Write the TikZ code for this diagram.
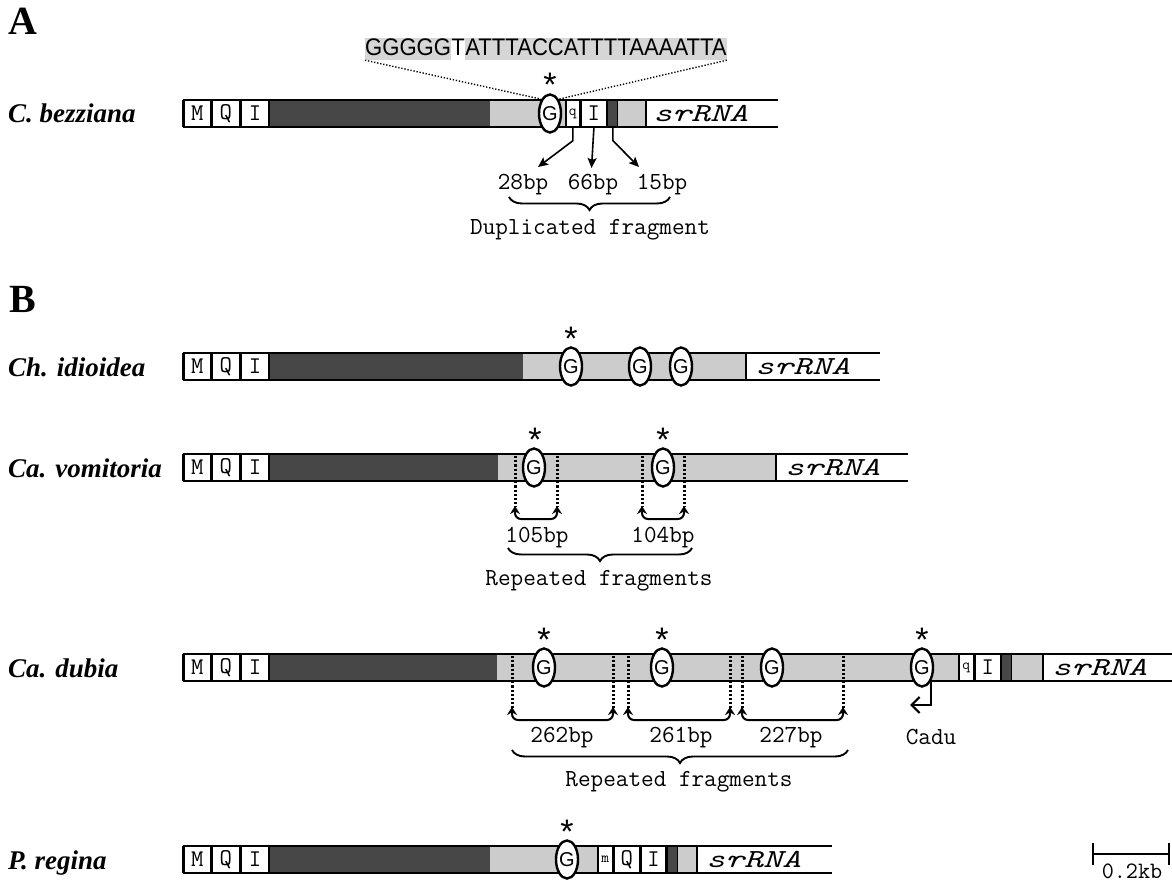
\documentclass[tikz,border=0pt]{standalone}
\usepackage{fontspec}
\usepackage{graphicx}
\setmainfont{Liberation Serif}
\newfontfamily\sansf{Liberation Sans}
\usetikzlibrary{shapes.geometric,arrows.meta,decorations.pathreplacing,calc}
\definecolor{dk}{gray}{0.28}
\definecolor{lt}{gray}{0.80}
\definecolor{hl}{gray}{0.84}
\begin{document}
\begin{tikzpicture}[x=1pt,y=-1pt,
  barline/.style={line width=2.8pt},
  gbox/.style={draw, line width=1.6pt, fill=white, minimum height=27pt, inner sep=0pt, anchor=west, font=\ttfamily\fontsize{24}{24}\selectfont},
  sbox/.style={gbox, font=\ttfamily\fontsize{15}{15}\selectfont},
  dbox/.style={draw, line width=1.2pt, fill=dk, minimum height=27pt, inner sep=0pt, anchor=west},
  gell/.style={ellipse, draw, line width=2.4pt, fill=white, minimum width=22pt, minimum height=38pt, inner sep=0pt, font=\sansf\fontsize{20}{20}\selectfont},
  astr/.style={anchor=base, font=\sansf\fontsize{34}{34}\selectfont, inner sep=0pt},
  species/.style={anchor=base west, font=\bfseries\itshape\fontsize{27}{27}\selectfont, inner sep=0pt},
  panel/.style={anchor=base, font=\bfseries\fontsize{40}{40}\selectfont, inner sep=0pt},
  rna/.style={anchor=west, font=\ttfamily\itshape\fontsize{26}{26}\selectfont, inner sep=0pt},
  mono/.style={anchor=base, font=\ttfamily\fontsize{24.5}{24.5}\selectfont, inner sep=0pt},
  seq/.style={anchor=base west, font=\sansf\fontsize{24}{24}\selectfont, inner xsep=0pt, inner ysep=1pt, text height=17pt, text depth=3pt},
  dots/.style={line width=3pt, dash pattern=on 2.2pt off 2pt},
  topdots/.style={line width=1.4pt, dash pattern=on 1.3pt off 1.8pt},
  brk/.style={line width=2pt, rounded corners=6pt, {Stealth[length=8pt,width=10pt]}-{Stealth[length=8pt,width=10pt]}},
  brc/.style={line width=1.9pt, decorate, decoration={brace, amplitude=13pt, mirror}},
  arr/.style={line width=1.6pt, -{Stealth[length=10pt,width=9pt,inset=2pt]}},
  sep/.style={line width=2pt},
]
\useasboundingbox (0,0) rectangle (1172,882);

% ---------------- Panel A ----------------
\node[panel] (pA) at (23,35) {A};
\node[species] (spA) at (8,123) {C. bezziana};
\fill[lt] (490,100) rectangle (646,127);
\fill[dk] (265,100) rectangle (490,127);
\node[gbox, minimum width=27pt] (aM) at (183,113.5) {M};
\node[gbox, minimum width=27pt] (aQ) at (aM.east) {Q};
\node[gbox, minimum width=28pt] (aI) at (aQ.east) {I};
\node[sbox, minimum width=14pt] (aq) at (565,113.5) {q};
\node[gbox, minimum width=25pt] (aI2) at (aq.east) {I};
\node[dbox, minimum width=10pt] (ad) at (aI2.east) {};
\draw[sep] (646,100) -- (646,127);
\draw[barline] (183,100) -- (778,100) (183,127) -- (778,127) (183,100) -- (183,127);
\node[rna] (aR) at (653,114) {\scalebox{1.39}[1]{srRNA}};
\node[gell] (aG) at (550,113.5) {G};
\node[astr] (aS) at (550,97) {*};

\node[seq, fill=hl] (s1) at (365,56) {\scalebox{0.92}[1]{GGGGG}};
\node[seq] (s2) at (s1.base east) {\scalebox{0.92}[1]{T}};
\node[seq, fill=hl] (s3) at (s2.base east) {\scalebox{0.92}[1]{ATTTACCATTTTAAAATTA}};
\draw[topdots] (s1.south west) -- (aG.north west);
\draw[topdots] (s3.south east) -- (aG.north east);

\coordinate (t1) at (538,167);
\coordinate (t2) at (591.5,168);
\coordinate (t3) at (639,167);
\draw[arr] (aq.south) -- ++(0,13) -- (t1);
\draw[arr] (aI2.south) -- (t2);
\draw[arr] (ad.south) -- ++(0,13) -- (t3);
\node[mono] (l28) at (523,190) {28bp};
\node[mono] (l66) at (593,190) {66bp};
\node[mono] (l15) at (662,190) {15bp};
\draw[brc] (509,197) -- (670,197);
\node[mono] (dup) at (590,235) {Duplicated fragment};

% ---------------- Panel B ----------------
\node[panel] (pB) at (23,313) {B};

% Ch. idioidea
\node[species] (spB) at (8,376) {Ch. idioidea};
\fill[lt] (523,353) rectangle (746,380);
\fill[dk] (265,353) rectangle (523,380);
\node[gbox, minimum width=27pt] (bM) at (183,366.5) {M};
\node[gbox, minimum width=27pt] (bQ) at (bM.east) {Q};
\node[gbox, minimum width=28pt] (bI) at (bQ.east) {I};
\draw[sep] (746,353) -- (746,380);
\draw[barline] (183,353) -- (880,353) (183,380) -- (880,380) (183,353) -- (183,380);
\node[rna] (bR) at (755,367) {\scalebox{1.39}[1]{srRNA}};
\node[gell] (bG1) at (571,366.5) {G};
\node[gell] (bG2) at (640,366.5) {G};
\node[gell] (bG3) at (681,366.5) {G};
\node[astr] (bS1) at (571,350) {*};

% Ca. vomitoria
\node[species] (spC) at (8,477) {Ca. vomitoria};
\fill[lt] (498,454) rectangle (776,481);
\fill[dk] (265,454) rectangle (498,481);
\node[gbox, minimum width=27pt] (cM) at (183,467.5) {M};
\node[gbox, minimum width=27pt] (cQ) at (cM.east) {Q};
\node[gbox, minimum width=28pt] (cI) at (cQ.east) {I};
\draw[sep] (776,454) -- (776,481);
\draw[barline] (183,454) -- (908,454) (183,481) -- (908,481) (183,454) -- (183,481);
\node[rna] (cR) at (785,468) {\scalebox{1.39}[1]{srRNA}};
\draw[dots] (515,456) -- (515,507) (557,456) -- (557,507) (642,456) -- (642,507) (684,456) -- (684,507);
\node[gell] (cG1) at (534,467.5) {G};
\node[gell] (cG2) at (663,467.5) {G};
\node[astr] (cS1) at (535,451) {*};
\node[astr] (cS2) at (663,451) {*};
\coordinate (c1a) at (515,506); \coordinate (c1b) at (557,506);
\coordinate (c2a) at (642,506); \coordinate (c2b) at (684,506);
\draw[brk] (c1a) -- ++(0,13) -| (c1b);
\draw[brk] (c2a) -- ++(0,13) -| (c2b);
\node[mono] (l105) at (537,542) {105bp};
\node[mono] (l104) at (663,542) {104bp};
\draw[brc] (508,548) -- (692,548);
\node[mono] (rep1) at (599,585) {Repeated fragments};

% Ca. dubia
\node[species] (spD) at (8,677) {Ca. dubia};
\fill[lt] (497,654) rectangle (1043,681);
\fill[dk] (265,654) rectangle (497,681);
\node[gbox, minimum width=27pt] (dM) at (183,667.5) {M};
\node[gbox, minimum width=27pt] (dQ) at (dM.east) {Q};
\node[gbox, minimum width=28pt] (dI) at (dQ.east) {I};
\node[sbox, minimum width=15pt] (dq) at (958,667.5) {q};
\node[gbox, minimum width=25pt] (dI2) at (dq.east) {I};
\node[dbox, minimum width=10pt] (dd) at (dI2.east) {};
\draw[sep] (1043,654) -- (1043,681);
\draw[barline] (183,654) -- (1174,654) (183,681) -- (1174,681) (183,654) -- (183,681);
\node[rna] (dR) at (1052,668) {\scalebox{1.39}[1]{srRNA}};
\draw[dots] (512,656) -- (512,708) (613,656) -- (613,708) (628,656) -- (628,708) (730,656) -- (730,708) (742,656) -- (742,708) (843,656) -- (843,708);
\node[gell] (dG1) at (544,667.5) {G};
\node[gell] (dG2) at (662,667.5) {G};
\node[gell] (dG3) at (772,667.5) {G};
\node[gell] (dG4) at (922,667.5) {G};
\node[astr] (dS1) at (544,651) {*};
\node[astr] (dS2) at (662,651) {*};
\node[astr] (dS4) at (922,651) {*};
\coordinate (d1a) at (512,707); \coordinate (d1b) at (613,707);
\coordinate (d2a) at (628,707); \coordinate (d2b) at (730,707);
\coordinate (d3a) at (742,707); \coordinate (d3b) at (843,707);
\draw[brk] (d1a) -- ++(0,13) -| (d1b);
\draw[brk] (d2a) -- ++(0,13) -| (d2b);
\draw[brk] (d3a) -- ++(0,13) -| (d3b);
\node[mono] (l262) at (562,742) {262bp};
\node[mono] (l261) at (681,742) {261bp};
\node[mono] (l227) at (791,742) {227bp};
\draw[brc] (512,750) -- (848,750);
\node[mono] (rep2) at (679,786) {Repeated fragments};
\coordinate (cadutip) at (910,705);
\draw[line width=2.2pt, -{Straight Barb[length=8pt,width=16pt]}] (dG4.south east) |- (cadutip);
\node[mono] (cadu) at (931,744) {Cadu};

% P. regina
\node[species] (spE) at (8,869) {P. regina};
\fill[lt] (490,846) rectangle (697,873);
\fill[dk] (265,846) rectangle (490,873);
\node[gbox, minimum width=27pt] (eM) at (183,859.5) {M};
\node[gbox, minimum width=27pt] (eQ) at (eM.east) {Q};
\node[gbox, minimum width=28pt] (eI) at (eQ.east) {I};
\node[sbox, minimum width=15pt] (em) at (597,859.5) {m};
\node[gbox, minimum width=25pt] (eQ2) at (em.east) {Q};
\node[gbox, minimum width=25pt] (eI2) at (eQ2.east) {I};
\node[dbox, minimum width=10pt] (ed) at (eI2.east) {};
\draw[sep] (697,846) -- (697,873);
\draw[barline] (183,846) -- (832,846) (183,873) -- (832,873) (183,846) -- (183,873);
\node[rna] (eR) at (706,860) {\scalebox{1.39}[1]{srRNA}};
\node[gell] (eG) at (567,859.5) {G};
\node[astr] (eS) at (567,843) {*};

% scale bar
\coordinate (sb1) at (1093,854);
\coordinate (sb2) at (1169,854);
\draw[line width=2.5pt] (sb1) -- (sb2);
\draw[line width=2.5pt] (1093,843) -- (1093,865) (1169,843) -- (1169,865);
\node[mono, font=\ttfamily\fontsize{23.5}{23.5}\selectfont] (sbl) at (1132,878) {0.2kb};
\end{tikzpicture}
\end{document}
